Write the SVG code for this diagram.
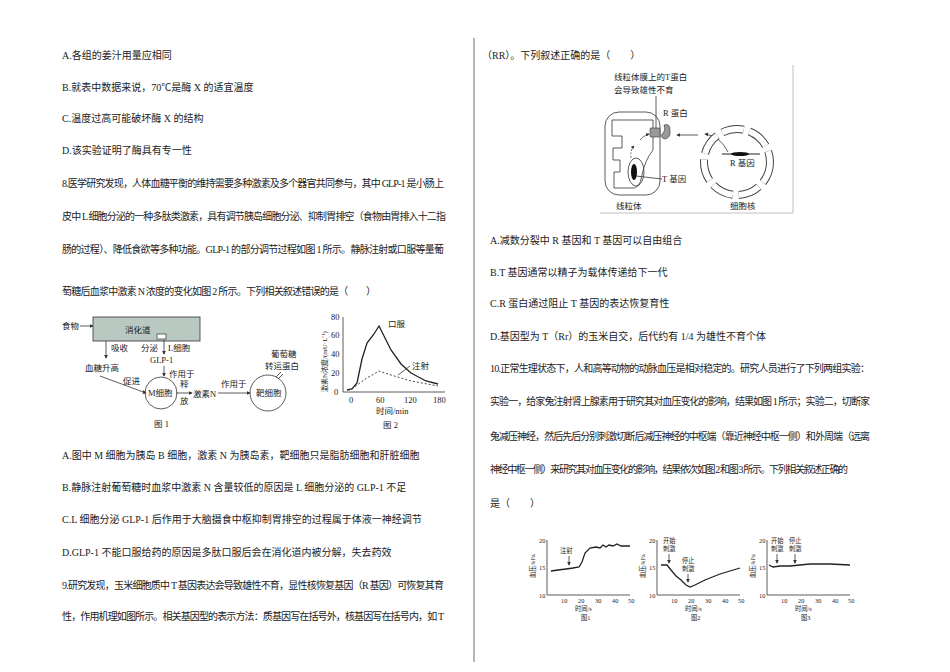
<svg xmlns="http://www.w3.org/2000/svg" width="950" height="672" viewBox="0 0 950 672">
<defs>
<style>
text{font-family:"Liberation Serif","Noto Sans CJK SC",serif;font-size:10px;fill:#222}
.s,.s text{font-size:8.5px}
.xs,.xs text{font-size:6.3px}
.ln{stroke:#333;stroke-width:0.8;fill:none}
.c{stroke:#222;stroke-width:1.3;fill:none}
</style>
<marker id="a" viewBox="0 0 6 6" refX="5" refY="3" markerWidth="5" markerHeight="5" orient="auto"><path d="M0,0L6,3L0,6z" fill="#333"/></marker>
</defs>
<rect width="950" height="672" fill="#fff"/>
<line x1="474" y1="38" x2="474" y2="662" stroke="#444" stroke-width="0.8"/>
<g id="left-text">
<text x="62" y="59">A.各组的姜汁用量应相同</text>
<text x="62" y="91">B.就表中数据来说，70℃是酶 X 的适宜温度</text>
<text x="62" y="122">C.温度过高可能破坏酶 X 的结构</text>
<text x="62" y="154">D.该实验证明了酶具有专一性</text>
<text x="62" y="187" textLength="382" lengthAdjust="spacing">8.医学研究发现，人体血糖平衡的维持需要多种激素及多个器官共同参与，其中 GLP-1 是小肠上</text>
<text x="62" y="220" textLength="384" lengthAdjust="spacing">皮中 L 细胞分泌的一种多肽类激素，具有调节胰岛细胞分泌、抑制胃排空（食物由胃排入十二指</text>
<text x="62" y="253" textLength="382" lengthAdjust="spacing">肠的过程）、降低食欲等多种功能。GLP-1 的部分调节过程如图 1 所示。静脉注射或口服等量葡</text>
<text x="62" y="295" textLength="314" lengthAdjust="spacing">萄糖后血浆中激素 N 浓度的变化如图 2 所示。下列相关叙述错误的是（　　）</text>
<text x="62" y="459">A.图中 M 细胞为胰岛 B 细胞，激素 N 为胰岛素，靶细胞只是脂肪细胞和肝脏细胞</text>
<text x="62" y="491">B.静脉注射葡萄糖时血浆中激素 N 含量较低的原因是 L 细胞分泌的 GLP-1 不足</text>
<text x="62" y="523">C.L 细胞分泌 GLP-1 后作用于大脑摄食中枢抑制胃排空的过程属于体液一神经调节</text>
<text x="62" y="556">D.GLP-1 不能口服给药的原因是多肽口服后会在消化道内被分解，失去药效</text>
<text x="62" y="589" textLength="382" lengthAdjust="spacing">9.研究发现，玉米细胞质中 T 基因表达会导致雄性不育，显性核恢复基因（R 基因）可恢复其育</text>
<text x="62" y="620" textLength="382" lengthAdjust="spacing">性，作用机理如图所示。相关基因型的表示方法：质基因写在括号外，核基因写在括号内，如 T</text>
</g>
<g id="fig1">
<text x="62" y="329" class="s">食物</text>
<line x1="80" y1="326" x2="93" y2="326" class="ln" marker-end="url(#a)"/>
<rect x="93" y="317" width="107" height="24" fill="#b9c9c1" stroke="#333" stroke-width="0.8"/>
<text x="125" y="333" class="s">消化道</text>
<rect x="157" y="334" width="9" height="5" fill="#fff" stroke="#333" stroke-width="0.7"/>
<line x1="106" y1="341" x2="106" y2="358" class="ln" marker-end="url(#a)"/>
<text x="111" y="351" class="s">吸收</text>
<text x="85" y="371" class="s">血糖升高</text>
<line x1="164" y1="340" x2="164" y2="354" class="ln" marker-end="url(#a)"/>
<text x="141" y="351" class="s">分泌</text>
<text x="168" y="351" class="s">L细胞</text>
<text x="150" y="363" class="s">GLP-1</text>
<line x1="164" y1="366" x2="164" y2="376" class="ln" marker-end="url(#a)"/>
<text x="169" y="377" class="s">作用于</text>
<text x="123" y="384" class="s">促进</text>
<line x1="100" y1="376" x2="146" y2="393" class="ln" marker-end="url(#a)"/>
<circle cx="161" cy="393" r="16" class="ln"/>
<text x="148" y="396" class="s">M细胞</text>
<line x1="176" y1="393" x2="192" y2="393" class="ln" marker-end="url(#a)"/>
<text x="180" y="387" class="s">释</text>
<text x="180" y="404" class="s">放</text>
<text x="193" y="397" class="s">激素N</text>
<line x1="218" y1="393" x2="250" y2="393" class="ln" marker-end="url(#a)"/>
<text x="221" y="387" class="s">作用于</text>
<circle cx="268" cy="393" r="18" class="ln"/>
<text x="256" y="396" class="s">靶细胞</text>
<line x1="276" y1="377" x2="281" y2="372" class="ln"/><line x1="278" y1="379" x2="283" y2="374" class="ln"/>
<text x="271" y="357" class="s">葡萄糖</text>
<text x="265" y="369" class="s">转运蛋白</text>
<text x="154" y="427" class="s">图 1</text>
</g>
<g id="fig2">
<line x1="343" y1="317" x2="343" y2="392" class="ln"/>
<line x1="343" y1="392" x2="445" y2="392" class="ln"/>
<g class="s">
<text x="334" y="395">0</text><text x="331" y="376">20</text><text x="331" y="357">40</text><text x="331" y="338">60</text><text x="331" y="320">80</text>
<text x="349" y="403">0</text><text x="376" y="403">60</text><text x="404" y="403">120</text><text x="433" y="403">180</text>
<text x="376" y="414">时间/min</text>
<text x="383" y="428">图 2</text>
<text x="388" y="327">口服</text><text x="412" y="369">注射</text>
<text transform="translate(327,392) rotate(-90)" style="font-size:7px">激素N浓度/(mU·L⁻¹)</text>
</g>
<path d="M347,390L352,389L357,383L362,359L367,343L374,334L379,326L381,330L391,350L401,364L411,373L426,381L438,384" class="c"/>
<path d="M352,389L357,385L367,378L379,371L391,375L411,381L438,386" fill="none" stroke="#333" stroke-width="0.9" stroke-dasharray="2,2"/>
<line x1="398" y1="375" x2="410" y2="366" class="ln"/>
</g>
<g id="right-text">
<text x="482" y="59">（RR）。下列叙述正确的是（　　）</text>
<text x="490" y="244">A.减数分裂中 R 基因和 T 基因可以自由组合</text>
<text x="490" y="276">B.T 基因通常以精子为载体传递给下一代</text>
<text x="490" y="307">C.R 蛋白通过阻止 T 基因的表达恢复育性</text>
<text x="490" y="340">D.基因型为 T（Rr）的玉米自交，后代约有 1/4 为雄性不育个体</text>
<text x="490" y="372" textLength="380" lengthAdjust="spacing">10.正常生理状态下，人和高等动物的动脉血压是相对稳定的。研究人员进行了下列两组实验：</text>
<text x="490" y="405" textLength="380" lengthAdjust="spacing">实验一，给家兔注射肾上腺素用于研究其对血压变化的影响，结果如图 1 所示；实验二，切断家</text>
<text x="490" y="440" textLength="380" lengthAdjust="spacing">兔减压神经，然后先后分别刺激切断后减压神经的中枢端（靠近神经中枢一侧）和外周端（远离</text>
<text x="490" y="473" textLength="358" lengthAdjust="spacing">神经中枢一侧）来研究其对血压变化的影响，结果依次如图 2 和图 3 所示。下列相关叙述正确的</text>
<text x="490" y="507">是（　　）</text>
</g>
<g id="fig-mito">
<line x1="793" y1="65" x2="793" y2="213" stroke="#999" stroke-width="0.6"/>
<line x1="600" y1="213" x2="793" y2="213" stroke="#999" stroke-width="0.6"/>
<text x="614" y="80" class="s">线粒体膜上的T蛋白</text>
<text x="614" y="93" class="s">会导致雄性不育</text>
<line x1="656" y1="96" x2="656" y2="129" class="ln"/>
<rect x="605" y="112" width="55" height="83" rx="14" class="ln"/>
<path d="M612,120H653V150Q645,160 642,175Q640,190 630,188H614V172H620V160H613V148H622V136H612Z" class="ln"/>
<ellipse cx="636" cy="172" rx="8" ry="14" class="ln"/>
<ellipse cx="634" cy="172" rx="3" ry="8" fill="#111"/>
<line x1="636" y1="176" x2="662" y2="179" class="ln"/>
<text x="662" y="182" class="s">T 基因</text>
<rect x="650" y="128" width="10" height="9" rx="1" fill="#999" stroke="#333" stroke-width="0.6"/>
<path d="M664,125Q670,123 670,130Q671,138 665,139Q660,138 662,134Q666,131 664,125Z" fill="#999" stroke="#333" stroke-width="0.6"/>
<text x="663" y="116" class="s">R 蛋白</text>
<path d="M631,158Q630,150 634,146" fill="none" stroke="#333" stroke-width="0.7" stroke-dasharray="2,1.5" marker-end="url(#a)"/>
<path d="M640,140Q643,136 649,134" fill="none" stroke="#333" stroke-width="0.7" marker-end="url(#a)"/>
<line x1="698" y1="135" x2="677" y2="135" class="ln" marker-end="url(#a)"/>
<path d="M728,152Q720,136 705,134" class="ln" marker-end="url(#a)"/>
<circle cx="737" cy="162" r="33" fill="none" stroke="#444" stroke-width="8" stroke-dasharray="22,6"/>
<circle cx="737" cy="162" r="33" fill="none" stroke="#fff" stroke-width="6" stroke-dasharray="22,6"/>
<line x1="722" y1="154" x2="760" y2="154" stroke="#222" stroke-width="1"/>
<ellipse cx="740" cy="154" rx="9" ry="2" fill="#111"/>
<text x="730" y="166" class="s">R 基因</text>
<text x="616" y="209" class="s">线粒体</text>
<text x="730" y="209" class="s">细胞核</text>
</g>
<g id="bp-fig1">
<polyline points="547,540 547,595 630,595" class="ln"/>
<g class="xs"><text x="539" y="543">20</text><text x="539" y="570">15</text><text x="539" y="598">10</text>
<text x="561" y="603">10</text><text x="578" y="603">20</text><text x="595" y="603">30</text><text x="612" y="603">40</text><text x="628" y="603">50</text>
<text x="575" y="611">时间/s</text><text x="581" y="620">图1</text><text x="560" y="553">注射</text>
<text transform="translate(535,578) rotate(-90)">血压/kPa</text></g>
<line x1="569" y1="556" x2="569" y2="565" class="ln" marker-end="url(#a)"/>
<path d="M551,571L558,570L566,569L573,568L579,567L582,562L585,553L590,548L596,547L600,548L603,545L606,547L609,545L613,546L617,544L621,546L630,546" class="c"/>
</g>
<g id="bp-fig2">
<polyline points="657,540 657,595 740,595" class="ln"/>
<g class="xs"><text x="649" y="543">20</text><text x="649" y="570">15</text><text x="649" y="598">10</text>
<text x="671" y="603">10</text><text x="688" y="603">20</text><text x="705" y="603">30</text><text x="722" y="603">40</text><text x="738" y="603">50</text>
<text x="685" y="611">时间/s</text><text x="691" y="620">图2</text>
<text x="663" y="543">开始</text><text x="663" y="551">刺激</text><text x="682" y="563">停止</text><text x="682" y="571">刺激</text>
<text transform="translate(645,578) rotate(-90)">血压/kPa</text></g>
<line x1="669" y1="554" x2="669" y2="563" class="ln" marker-end="url(#a)"/>
<line x1="688" y1="574" x2="688" y2="582" class="ln" marker-end="url(#a)"/>
<path d="M661,565L667,565L671,570L676,576L681,580L686,585L690,587L695,585L705,580L720,574L740,568" class="c"/>
</g>
<g id="bp-fig3">
<polyline points="767,540 767,595 850,595" class="ln"/>
<g class="xs"><text x="759" y="543">20</text><text x="759" y="570">15</text><text x="759" y="598">10</text>
<text x="781" y="603">10</text><text x="798" y="603">20</text><text x="815" y="603">30</text><text x="832" y="603">40</text><text x="848" y="603">50</text>
<text x="795" y="611">时间/s</text><text x="801" y="620">图3</text>
<text x="771" y="543">开始</text><text x="771" y="551">刺激</text><text x="789" y="543">停止</text><text x="789" y="551">刺激</text>
<text transform="translate(755,578) rotate(-90)">血压/kPa</text></g>
<line x1="777" y1="554" x2="777" y2="563" class="ln" marker-end="url(#a)"/>
<line x1="795" y1="554" x2="795" y2="563" class="ln" marker-end="url(#a)"/>
<path d="M769,565L773,567L780,566L790,566L800,565L810,564L830,564L850,565" class="c"/>
</g>
</svg>
